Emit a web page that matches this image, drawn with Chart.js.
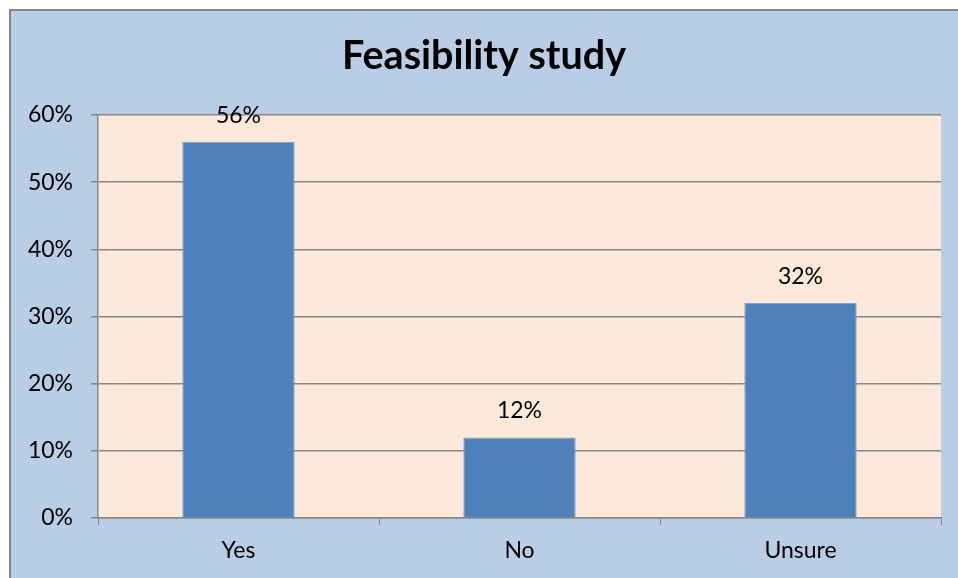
<!DOCTYPE html>
<html>
<head>
<meta charset="utf-8">
<script src="https://cdn.jsdelivr.net/npm/chart.js@4/dist/chart.umd.min.js"></script>
<style>
  html, body { margin: 0; padding: 0; background: #ffffff; }
  #wrap { width: 958px; height: 578px; position: relative; }
</style>
</head>
<body>
<div id="wrap"><canvas id="c" width="958" height="578"></canvas></div>
<script>
// Survey answers and their shares
const categories = ['Yes', 'No', 'Unsure'];
const shares = [0.56, 0.12, 0.32];
const yTicks = [0, 0.1, 0.2, 0.3, 0.4, 0.5, 0.6];
const chartTitle = 'Feasibility study';

const FONT = 'Lato, "Open Sans", sans-serif';
const fmtPct = v => Math.round(v * 100) + '%';

// Outer frame and plot background
const backdrop = {
  id: 'backdrop',
  beforeDraw(chart) {
    const { ctx, chartArea: a } = chart;
    ctx.save();
    ctx.fillStyle = '#ffffff';
    ctx.fillRect(0, 0, chart.width, chart.height);
    ctx.fillStyle = '#b9cde5';
    ctx.fillRect(10, 10, chart.width, chart.height);
    ctx.strokeStyle = '#868686';
    ctx.lineWidth = 2;
    ctx.strokeRect(10, 10, chart.width + 10, chart.height + 10);
    ctx.fillStyle = '#fde9d9';
    ctx.fillRect(a.left, a.top, a.right - a.left, a.bottom - a.top);
    ctx.restore();
  }
};

// Value labels above each bar
const valueLabels = {
  id: 'valueLabels',
  afterDatasetsDraw(chart) {
    const { ctx } = chart;
    const meta = chart.getDatasetMeta(0);
    ctx.save();
    ctx.fillStyle = '#000000';
    ctx.font = '23px ' + FONT;
    ctx.textAlign = 'center';
    ctx.textBaseline = 'alphabetic';
    meta.data.forEach((bar, i) => {
      ctx.fillText(fmtPct(shares[i]), bar.x, bar.y - 19);
    });
    ctx.restore();
  }
};

new Chart(document.getElementById('c'), {
  type: 'bar',
  data: {
    labels: categories,
    datasets: [{
      data: shares,
      backgroundColor: '#4f81bd',
      borderColor: '#7fa2cf',
      borderWidth: 1,
      categoryPercentage: 0.5,
      barPercentage: 0.8
    }]
  },
  options: {
    responsive: false,
    animation: false,
    events: [],
    layout: { padding: { left: 27, right: 17, top: 0, bottom: 0 } },
    plugins: {
      legend: { display: false },
      tooltip: { enabled: false },
      title: {
        display: true,
        text: chartTitle,
        color: '#000000',
        font: { family: FONT, size: 39.5, weight: 'bold', lineHeight: 1.2 },
        padding: { top: 32.3, bottom: 35.3 }
      }
    },
    scales: {
      x: {
        offset: true,
        grid: {
          offset: true,
          drawOnChartArea: false,
          drawTicks: true,
          tickLength: 7,
          color: '#868686',
          lineWidth: 1
        },
        border: { display: true, color: '#868686', width: 1.5 },
        ticks: { color: '#000000', font: { family: FONT, size: 23 }, padding: 12 },
        afterFit(scale) { scale.height = 60; }
      },
      y: {
        min: 0,
        max: 0.6,
        afterBuildTicks(scale) { scale.ticks = yTicks.map(v => ({ value: v })); },
        grid: {
          color: '#868686',
          lineWidth: 1.5,
          drawTicks: true,
          tickLength: 7
        },
        border: { display: true, color: '#868686', width: 1.5 },
        ticks: {
          color: '#000000',
          font: { family: FONT, size: 23 },
          padding: 18,
          callback: v => fmtPct(v)
        },
        afterFit(scale) { scale.width = 71; }
      }
    }
  },
  plugins: [backdrop, valueLabels]
});
</script>
</body>
</html>
